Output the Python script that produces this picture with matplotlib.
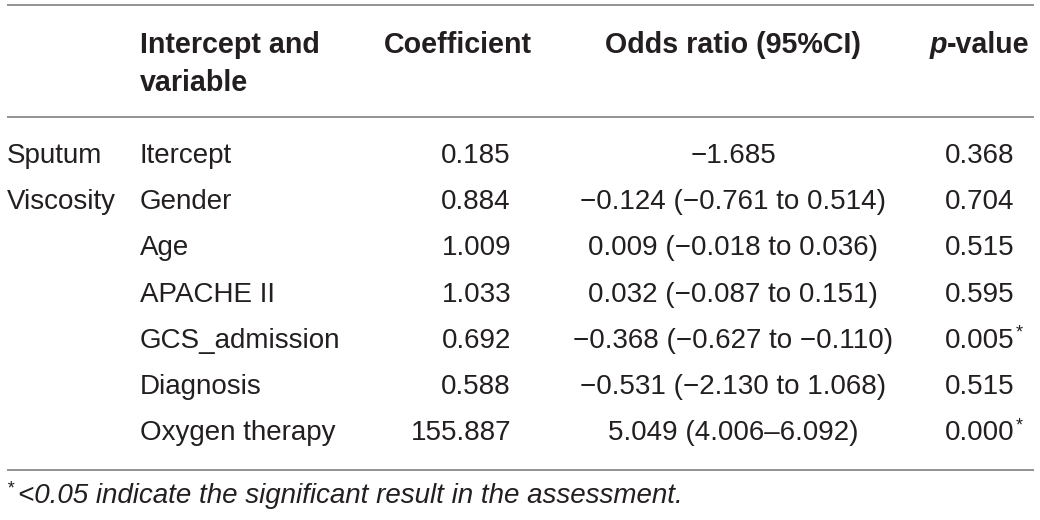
import matplotlib
matplotlib.use("Agg")
import matplotlib.pyplot as plt

# ---- data ----
group_label = ["Sputum", "Viscosity"]
variables = ["Itercept", "Gender", "Age", "APACHE II", "GCS_admission",
             "Diagnosis", "Oxygen therapy"]
coefficients = ["0.185", "0.884", "1.009", "1.033", "0.692", "0.588", "155.887"]
odds_ratios = ["\u22121.685",
               "\u22120.124 (\u22120.761 to 0.514)",
               "0.009 (\u22120.018 to 0.036)",
               "0.032 (\u22120.087 to 0.151)",
               "\u22120.368 (\u22120.627 to \u22120.110)",
               "\u22120.531 (\u22122.130 to 1.068)",
               "5.049 (4.006\u20136.092)"]
p_values = ["0.368", "0.704", "0.515", "0.595", "0.005", "0.515", "0.000"]
significant = [False, False, False, False, True, False, True]
footnote = "<0.05 indicate the significant result in the assessment."

# ---- styling ----
FONT = "Liberation Sans"
TXT = "#231f20"
LINE = "#8a8a8a"
FS = 20
FSB = 20.6

fig = plt.figure(figsize=(10.4, 5.2), dpi=100)
ax = fig.add_axes([0, 0, 1, 1])
ax.set_xlim(0, 1040)
ax.set_ylim(520, 0)
ax.axis("off")

# rules
for y in (5, 117, 470):
    ax.hlines(y, 7, 1034, color=LINE, lw=1.3)

# header
hb = 53
kw = dict(fontfamily=FONT, fontsize=FSB, color=TXT, fontweight="bold")
ax.text(140, hb, "Intercept and", ha="left", va="baseline", **kw)
ax.text(140, hb + 38, "variable", ha="left", va="baseline", **kw)
ax.text(458, hb, "Coefficient", ha="center", va="baseline", **kw)
ax.text(733, hb, "Odds ratio (95%CI)", ha="center", va="baseline", **kw)
ax.text(947, hb, "p", ha="right", va="baseline", fontstyle="italic", **kw)
ax.text(947, hb, "-value", ha="left", va="baseline", **kw)

# body
rkw = dict(fontfamily=FONT, fontsize=FS, color=TXT)
y0, dy = 163, 46.2
renderer = fig.canvas.get_renderer()
inv = ax.transData.inverted()
for i, g in enumerate(group_label):
    ax.text(7, y0 + i * dy, g, ha="left", va="baseline", **rkw)
for i in range(len(variables)):
    y = y0 + i * dy
    ax.text(140, y, variables[i], ha="left", va="baseline", **rkw)
    ax.text(511, y, coefficients[i], ha="right", va="baseline", **rkw)
    ax.text(733, y, odds_ratios[i], ha="center", va="baseline", **rkw)
    t = ax.text(945, y, p_values[i], ha="left", va="baseline", **rkw)
    if significant[i]:
        bb = t.get_window_extent(renderer)
        xr = inv.transform((bb.x1, bb.y0))[0]
        ax.text(xr + 1, y - 10, "*", ha="left", va="baseline",
                fontfamily=FONT, fontsize=FS * 0.65, color=TXT)

# footnote
fb = 503
ax.text(7, fb - 10, "*", ha="left", va="baseline", fontfamily=FONT,
        fontsize=FS * 0.65, color=TXT, fontstyle="italic")
ax.text(18, fb, footnote, ha="left", va="baseline", fontfamily=FONT,
        fontsize=FS, color=TXT, fontstyle="italic")

fig.savefig("out.png", dpi=100)
